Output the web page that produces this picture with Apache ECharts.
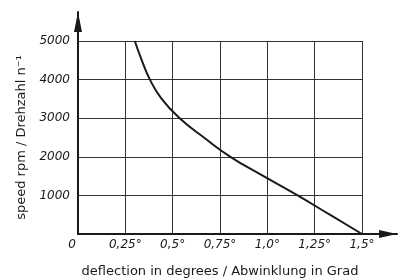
<!DOCTYPE html>
<html>
<head>
<meta charset="utf-8">
<script src="https://cdn.jsdelivr.net/npm/echarts@6/dist/echarts.min.js"></script>
<style>
  html, body { margin: 0; padding: 0; background: #fff; }
  #chart { width: 398px; height: 278px; }
</style>
</head>
<body>
<div id="chart"></div>
<script>
// values
var deflection = [0.300, 0.337, 0.380, 0.442, 0.537, 0.665, 0.805, 0.980, 1.160, 1.330, 1.500];
var speed = [5000, 4500, 4000, 3500, 3000, 2500, 2000, 1500, 1000, 500, 0];
var xTickLabels = ['0', '0,25°', '0,5°', '0,75°', '1,0°', '1,25°', '1,5°'];
var yTickLabels = ['', '1000', '2000', '3000', '4000', '5000'];

var ink = '#1a1a1a';
var dom = document.getElementById('chart');
var myChart = echarts.init(dom);

var curve = deflection.map(function (d, i) { return [d, speed[i]]; });

var labelFont = { fontFamily: 'DejaVu Sans', fontStyle: 'italic', fontSize: 12, color: ink };

option = {
  animation: false,
  grid: [
    { left: 78, right: 36, top: 41, bottom: 44, outerBoundsMode: 'none' },
    { left: 78, right: 1, top: 12, bottom: 44, outerBoundsMode: 'none' }
  ],
  xAxis: [
    {
      type: 'value', gridIndex: 0, min: 0, max: 1.5, interval: 0.25,
      axisLine: { show: true, lineStyle: { color: ink, width: 2 } },
      axisTick: { show: false },
      axisLabel: Object.assign({
        margin: 5,
        formatter: function (v) {
          var s = xTickLabels[Math.round(v / 0.25)];
          return v === 0 ? '{o|' + s + '}' : s;
        },
        rich: { o: { padding: [0, 12, 0, 0], fontFamily: 'DejaVu Sans', fontStyle: 'italic', fontSize: 12, color: ink } }
      }, labelFont),
      splitLine: { show: true, lineStyle: { color: '#333', width: 1 } },
      name: 'deflection in degrees / Abwinklung in Grad',
      nameLocation: 'middle',
      nameGap: 31,
      nameTextStyle: { fontFamily: 'DejaVu Sans', fontSize: 13, color: ink }
    },
    {
      type: 'value', gridIndex: 1, min: 0, max: 1,
      axisLine: { show: true, symbol: ['none', 'triangle'], symbolSize: [8, 18], symbolOffset: [0, -9], lineStyle: { color: ink, width: 2 } },
      axisTick: { show: false }, axisLabel: { show: false }, splitLine: { show: false }
    }
  ],
  yAxis: [
    {
      type: 'value', gridIndex: 0, min: 0, max: 5000, interval: 1000,
      axisLine: { show: true, lineStyle: { color: ink, width: 2 } },
      axisTick: { show: false },
      axisLabel: Object.assign({
        margin: 8,
        formatter: function (v) { return yTickLabels[Math.round(v / 1000)]; }
      }, labelFont),
      splitLine: { show: true, lineStyle: { color: '#333', width: 1 } },
      name: 'speed rpm / Drehzahl n⁻¹',
      nameLocation: 'middle',
      nameGap: 46,
      nameTextStyle: { fontFamily: 'DejaVu Sans', fontSize: 13, color: ink }
    },
    {
      type: 'value', gridIndex: 1, min: 0, max: 1,
      axisLine: { show: true, symbol: ['none', 'triangle'], symbolSize: [8, 20], symbolOffset: [0, -10], lineStyle: { color: ink, width: 2 } },
      axisTick: { show: false }, axisLabel: { show: false }, splitLine: { show: false }
    }
  ],
  series: [
    {
      type: 'line',
      xAxisIndex: 0,
      yAxisIndex: 0,
      data: curve,
      smooth: 0.5,
      showSymbol: false,
      lineStyle: { color: ink, width: 2 }
    }
  ]
};

if (option && typeof option === 'object') {
  myChart.setOption(option);
}
</script>
</body>
</html>
